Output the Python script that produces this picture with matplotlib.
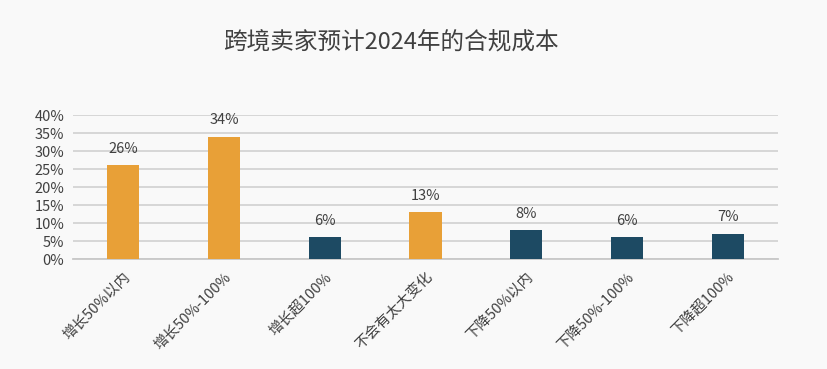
import numpy as np
import matplotlib
matplotlib.use('Agg')
from matplotlib import pyplot as plt

plt.rcParams['font.family'] = ['Noto Sans CJK SC', 'DejaVu Sans']

categories = ['增长50%以内', '增长50%-100%', '增长超100%', '不会有太大变化',
              '下降50%以内', '下降50%-100%', '下降超100%']
values = [26, 34, 6, 13, 8, 6, 7]
colors = ['#E8A037', '#E8A037', '#1D4A63', '#E8A037', '#1D4A63', '#1D4A63', '#1D4A63']

bg = '#F9F9F9'
txt = '#404040'

fig = plt.figure(figsize=(8.27, 3.69), dpi=100, facecolor=bg)
ax = fig.add_axes([0.088, 0.298, 0.853, 0.39], facecolor=bg)

x = np.arange(len(categories))
bars = ax.bar(x, values, width=0.32, color=colors, zorder=3)

for b, v in zip(bars, values):
    ax.annotate(f'{v}%', (b.get_x() + b.get_width() / 2, v),
                xytext=(0, 7), textcoords='offset points',
                ha='center', va='bottom', fontsize=10.5, color=txt)

ax.set_xlim(-0.5, len(categories) - 0.5)
ax.set_ylim(0, 40)
ax.set_yticks(np.arange(0, 41, 5))
ax.set_yticklabels([f'{t}%' for t in range(0, 41, 5)], fontsize=10.5, color=txt)
ax.grid(axis='y', color='#D4D4D4', linewidth=1.3, zorder=0)
ax.set_xticks(x)
ax.set_xticklabels(categories, rotation=45, ha='right', rotation_mode='anchor',
                   fontsize=10.5, color=txt)
ax.tick_params(length=0, pad=6)
ax.tick_params(axis='x', pad=8)

for s in ['left', 'right', 'top']:
    ax.spines[s].set_visible(False)
ax.spines['bottom'].set_color('#C8C8C8')
ax.spines['bottom'].set_linewidth(1.3)

fig.text(0.472, 0.885, '跨境卖家预计2024年的合规成本', ha='center', va='center',
         fontsize=17, color=txt)

fig.savefig('out.png', facecolor=bg)
